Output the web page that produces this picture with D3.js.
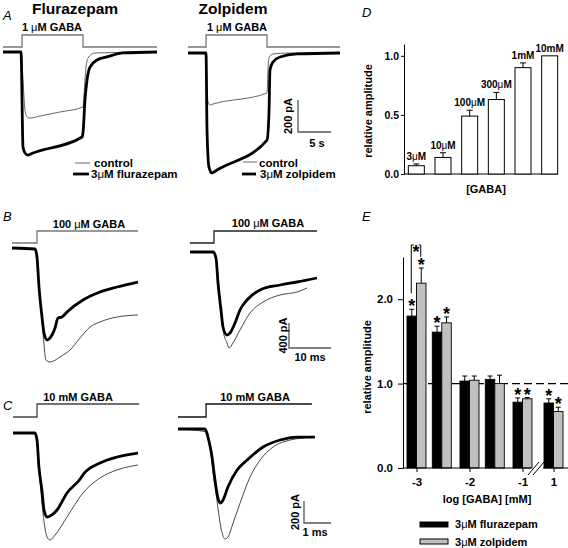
<!DOCTYPE html>
<html><head><meta charset="utf-8">
<script src="https://cdn.jsdelivr.net/npm/d3@7"></script>
<style>
body{margin:0;background:#fff}
svg{display:block;font-family:"Liberation Sans",Arial,Helvetica,sans-serif}
</style></head><body>
<svg id="c" width="568" height="548"></svg>
<script>
// ================= DATA =================
// Panel A: [time (s), current (pA)]
const aFluraControl = [[0,0],[2.73,0],[3.03,-175],[3.33,-363],[3.64,-406],[4.09,-413],[5.61,-400],[8.64,-375],[12.12,-344],[12.27,-269],[12.58,-94],[12.88,-38],[13.94,-6],[23.33,0]];
const aFluraDrug    = [[0,0],[2.73,0],[3.03,-594],[3.33,-631],[3.79,-644],[4.55,-631],[11.97,-531],[12.12,-506],[12.42,-300],[12.73,-175],[13.18,-94],[14.24,-50],[15.76,-31],[18.18,-6],[23.33,0]];
const aZolpControl  = [[0,0],[2.58,0],[3.03,-306],[3.33,-325],[3.79,-319],[11.97,-250],[12.12,-106],[12.27,-31],[12.88,-6],[15.45,0],[23.03,0]];
const aZolpDrug     = [[0,0],[2.73,0],[2.88,-481],[3.18,-713],[3.64,-750],[4.39,-731],[11.97,-544],[12.27,-375],[12.42,-106],[12.88,-56],[13.94,-25],[16.52,-6],[23.03,0]];
// Panel B: [time (ms), current (pA)]
const bFluraControl = [[0,0],[5.48,-16],[5.95,-144],[6.43,-624],[7.14,-1152],[7.62,-1552],[8.1,-1792],[9.05,-1824],[11.43,-1744],[13.81,-1632],[16.19,-1440],[18.57,-1264],[20.95,-1184],[25.0,-1104],[30.0,-1072]];
const bFluraDrug    = [[0,0],[5.48,-16],[5.95,-144],[6.43,-624],[7.14,-1104],[7.62,-1360],[8.33,-1472],[9.05,-1440],[10.24,-1280],[10.95,-1120],[11.9,-1104],[13.1,-1024],[16.9,-832],[20.95,-704],[25.0,-624],[30.0,-544]];
const bZolpControl  = [[0,0],[5.48,0],[6.43,-240],[7.14,-768],[7.86,-1248],[8.81,-1456],[9.29,-1536],[10.24,-1456],[11.9,-1248],[14.29,-976],[17.38,-800],[21.43,-688],[25.48,-640],[27.86,-576]];
const bZolpDrug     = [[0,0],[5.48,0],[6.19,-96],[6.67,-496],[7.38,-928],[7.86,-1200],[8.81,-1328],[9.52,-1296],[10.71,-1136],[11.9,-928],[13.57,-768],[16.67,-608],[21.43,-528],[25.48,-480],[30.24,-416]];
// Panel C: [time (ms), current (pA)]
const cFluraControl = [[0,0],[0.81,0],[0.89,-64],[1.0,-427],[1.11,-727],[1.26,-945],[1.37,-973],[1.56,-927],[2.0,-764],[2.59,-545],[3.22,-409],[3.85,-336],[4.63,-291]];
const cFluraDrug    = [[0,0],[0.81,0],[0.89,-64],[0.96,-309],[1.07,-518],[1.15,-700],[1.26,-764],[1.44,-745],[1.63,-700],[2.0,-545],[2.48,-420],[2.59,-380],[3.22,-273],[3.85,-218],[4.63,-182]];
const cZolpControl  = [[0,0],[1.07,-27],[1.19,-164],[1.3,-400],[1.44,-645],[1.56,-855],[1.74,-1000],[1.85,-982],[2.04,-855],[2.3,-673],[2.67,-436],[3.04,-282],[3.52,-164],[4.15,-100],[4.63,-82],[5.07,-73]];
const cZolpDrug     = [[0,0],[1.0,0],[1.11,-73],[1.26,-255],[1.37,-464],[1.48,-627],[1.56,-673],[1.67,-645],[1.85,-527],[2.19,-373],[2.56,-282],[3.15,-164],[3.78,-100],[4.41,-73],[5.07,-73]];
// GABA application windows [on, off]
const aApplyFlura = [2.88, 12.12];
const aApplyZolp  = [2.73, 11.97];
const bApplyFlura = [5.95, 30.0];
const bApplyZolp  = [5.71, 30.24];
const cApplyFlura = [0.89, 4.67];
const cApplyZolp  = [1.04, 4.96];

// Panel D: concentration-response
const dLabels = ["3μM","10μM","100μM","300μM","1mM","10mM"];
const dMean   = [0.07, 0.14, 0.49, 0.63, 0.90, 1.00];
const dErr    = [0.015, 0.04, 0.05, 0.06, 0.04, 0];
const dTicks  = [0, 0.5, 1.0];

// Panel E: modulation
const eConc      = [0.001, 0.003, 0.01, 0.03, 0.1, 10];   // mM
const eFluraMean = [1.80, 1.61, 1.03, 1.05, 0.78, 0.77];
const eFluraErr  = [0.08, 0.07, 0.06, 0.04, 0.05, 0.05];
const eZolpMean  = [2.19, 1.72, 1.04, 1.00, 0.82, 0.67];
const eZolpErr   = [0.18, 0.07, 0.05, 0.10, 0.015, 0.05];
const eFluraSig  = [true, true, false, false, true, true];
const eZolpSig   = [true, true, false, false, true, true];
const eYTicks    = [0, 1, 2];
const eXTicks    = [-3, -2, -1, 1];

// ================= DRAW =================
const svg = d3.select("#c");
const BOLD = "bold";

function rich(g, x, y, str, size, anchor, rotate) {
  const t = g.append("text").attr("x", x).attr("y", y)
    .attr("font-size", size).attr("font-weight", BOLD)
    .attr("text-anchor", anchor || "start").attr("fill", "#000");
  if (rotate) t.attr("transform", `rotate(${rotate},${x},${y})`);
  str.split(/(μ)/).forEach(s => {
    if (!s) return;
    const ts = t.append("tspan").text(s);
    if (s === "μ") ts.attr("font-weight", "normal");
  });
  return t;
}
function letter(x, y, s) {
  svg.append("text").attr("x", x).attr("y", y).attr("font-size", 13)
    .attr("font-style", "italic").text(s);
}

function tracePanel(cfg) {
  const x = d3.scaleLinear().domain([0, cfg.tMax]).range([cfg.x0, cfg.x0 + cfg.tMax * cfg.pxT]);
  const y = d3.scaleLinear().domain([0, -1000]).range([cfg.y0, cfg.y0 + 1000 / cfg.pApx]);
  const line = d3.line().x(d => x(d[0])).y(d => y(d[1])).curve(d3.curveMonotoneX);
  const g = svg.append("g");
  const [on, off] = cfg.apply;
  const stepPts = off < cfg.tMax - 0.5
    ? [[0, cfg.stepLow], [on, cfg.stepLow], [on, cfg.stepHigh], [off, cfg.stepHigh], [off, cfg.stepLow], [cfg.tMax, cfg.stepLow]]
    : [[0, cfg.stepLow], [on, cfg.stepLow], [on, cfg.stepHigh], [off, cfg.stepHigh]];
  g.append("path").attr("d", d3.line().x(d => x(d[0])).y(d => d[1])(stepPts))
    .attr("fill", "none").attr("stroke", cfg.stepColor).attr("stroke-width", 1.3);
  g.append("path").attr("d", line(cfg.control)).attr("fill", "none")
    .attr("stroke", cfg.ctrlColor).attr("stroke-width", 0.9);
  g.append("path").attr("d", line(cfg.drug)).attr("fill", "none")
    .attr("stroke", "#000").attr("stroke-width", 2.8).attr("stroke-linejoin", "round");
  return {x, y, g};
}
function scaleBar(p, cx, cy, pA, t, pALabel, tLabel, lblX, tLblX, tLblY) {
  const h = p.y(-pA) - p.y(0), w = p.x(t) - p.x(0);
  svg.append("path").attr("d", `M${cx},${cy - h}V${cy}H${cx + w}`)
    .attr("fill", "none").attr("stroke", "#555").attr("stroke-width", 1.3);
  rich(svg, lblX, cy - h / 2, pALabel, 11, "middle", -90);
  rich(svg, tLblX, tLblY, tLabel, 11, "middle");
}

// ---- Panel A ----
letter(3, 20, "A");
svg.append("text").attr("x", 75).attr("y", 14).attr("font-size", 15.5).attr("font-weight", BOLD).attr("text-anchor", "middle").text("Flurazepam");
svg.append("text").attr("x", 233).attr("y", 14).attr("font-size", 15.5).attr("font-weight", BOLD).attr("text-anchor", "middle").text("Zolpidem");
const pA1 = tracePanel({x0: 3, y0: 52, tMax: 23.33, pxT: 6.6, pApx: 6.25, apply: aApplyFlura, stepLow: 47, stepHigh: 35, stepColor: "#777", ctrlColor: "#555", control: aFluraControl, drug: aFluraDrug});
const pA2 = tracePanel({x0: 188, y0: 53, tMax: 23.03, pxT: 6.6, pApx: 6.25, apply: aApplyZolp, stepLow: 47, stepHigh: 35, stepColor: "#777", ctrlColor: "#555", control: aZolpControl, drug: aZolpDrug});
rich(svg, 52, 31, "1 μM GABA", 11, "middle");
rich(svg, 237, 31, "1 μM GABA", 11, "middle");
[[75, 90, 163, 0.9, "#555", "control", 94, 167],
 [73, 89, 174, 2.8, "#000", "3μM flurazepam", 91, 178],
 [243, 257, 162, 0.9, "#555", "control", 259, 167],
 [242, 256, 174, 2.8, "#000", "3μM zolpidem", 260, 178]].forEach(l => {
  svg.append("line").attr("x1", l[0]).attr("x2", l[1]).attr("y1", l[2]).attr("y2", l[2]).attr("stroke", l[4]).attr("stroke-width", l[3]);
  rich(svg, l[6], l[7], l[5], 11.5, "start");
});
scaleBar(pA2, 298, 132, 200, 5, "200 pA", "5 s", 292, 317, 147);

// ---- Panel B ----
letter(3, 221, "B");
const pB1 = tracePanel({x0: 12, y0: 248, tMax: 30, pxT: 4.2, pApx: 16, apply: bApplyFlura, stepLow: 243, stepHigh: 231, stepColor: "#777", ctrlColor: "#333", control: bFluraControl, drug: bFluraDrug});
const pB2 = tracePanel({x0: 190, y0: 252, tMax: 30.24, pxT: 4.2, pApx: 16, apply: bApplyZolp, stepLow: 243, stepHigh: 231, stepColor: "#222", ctrlColor: "#333", control: bZolpControl, drug: bZolpDrug});
rich(svg, 89, 228, "100  μM GABA", 11, "middle");
rich(svg, 268, 227, "100  μM GABA", 11, "middle");
scaleBar(pB2, 289, 348, 400, 10, "400 pA", "10 ms", 287, 310, 361);

// ---- Panel C ----
letter(3, 410, "C");
const pC1 = tracePanel({x0: 13, y0: 433, tMax: 4.67, pxT: 27, pApx: 9.09, apply: cApplyFlura, stepLow: 417, stepHigh: 404, stepColor: "#444", ctrlColor: "#333", control: cFluraControl, drug: cFluraDrug});
const pC2 = tracePanel({x0: 178, y0: 429, tMax: 5.07, pxT: 27, pApx: 9.09, apply: cApplyZolp, stepLow: 417, stepHigh: 404, stepColor: "#111", ctrlColor: "#333", control: cZolpControl, drug: cZolpDrug});
rich(svg, 78, 401, "10 mM GABA", 11, "middle");
rich(svg, 255, 401, "10 mM GABA", 11, "middle");
scaleBar(pC2, 304, 523, 200, 1, "200 pA", "1 ms", 299, 315, 536);

// ---- Panel D ----
letter(362, 17, "D");
const xD = d3.scaleBand().domain(dLabels).range([403, 563]).paddingInner(0.4).paddingOuter(0.2);
const yD = d3.scaleLinear().domain([0, 1.1]).range([174, 44]);
const gD = svg.append("g");
gD.append("line").attr("x1", 404).attr("x2", xD(dLabels[5]) + xD.bandwidth()).attr("y1", yD(0)).attr("y2", yD(0)).attr("stroke", "#000").attr("stroke-width", 1);
dLabels.forEach((l, i) => {
  const bx = xD(l), bw = xD.bandwidth(), cx = bx + bw / 2;
  gD.append("rect").attr("x", bx).attr("y", yD(dMean[i])).attr("width", bw).attr("height", yD(0) - yD(dMean[i]))
    .attr("fill", "#fff").attr("stroke", "#000").attr("stroke-width", 1);
  const top = yD(dMean[i] + dErr[i]);
  if (dErr[i] > 0) {
    gD.append("path").attr("d", `M${cx},${yD(dMean[i])}V${top}M${cx - 3},${top}H${cx + 3}`).attr("stroke", "#000").attr("fill", "none");
  }
  rich(gD, cx, top - 4, l, 10, "middle");
});
const axD = svg.append("g").attr("transform", "translate(404,0)")
  .call(d3.axisLeft(yD).tickValues(dTicks).tickFormat(d3.format(".1f")).tickSize(3).tickSizeOuter(0).tickPadding(2));
axD.selectAll("text").attr("font-size", 10.5).attr("font-weight", BOLD).attr("font-family", null);
axD.selectAll("path,line").attr("stroke", "#000");
rich(svg, 372, 111, "relative amplitude", 11, "middle", -90);
rich(svg, 486, 193, "[GABA]", 11, "middle");

// ---- Panel E ----
letter(362, 221, "E");
const xE = d3.scaleLinear().domain([-3, -1, 1]).range([416.5, 522.5, 553.5]);
const yE = d3.scaleLinear().domain([0, 2.5]).range([468, 257]);
const gE = svg.append("g");
const bw = 9.5;
gE.append("line").attr("x1", 404).attr("x2", 568).attr("y1", yE(1)).attr("y2", yE(1))
  .attr("stroke", "#000").attr("stroke-width", 1.1).attr("stroke-dasharray", "8,4");
function star(x, yc) {
  gE.append("text").attr("x", x).attr("y", yc + 9).attr("font-size", 18).attr("font-weight", BOLD)
    .attr("text-anchor", "middle").text("*");
}
function ebar(cx, mean, err, fill, sig) {
  gE.append("rect").attr("x", cx).attr("y", yE(mean)).attr("width", bw).attr("height", yE(0) - yE(mean))
    .attr("fill", fill).attr("stroke", "#000").attr("stroke-width", 0.9);
  const c = cx + bw / 2, top = yE(mean + err);
  gE.append("path").attr("d", `M${c},${yE(mean)}V${top}M${c - 2.5},${top}H${c + 2.5}`).attr("stroke", "#000").attr("fill", "none");
  if (sig) star(c, top - 6);
  return {c, top};
}
const eRes = eConc.map((conc, i) => {
  const cx = xE(Math.log10(conc));
  const b = ebar(cx - bw, eFluraMean[i], eFluraErr[i], "#000", eFluraSig[i]);
  const z = ebar(cx, eZolpMean[i], eZolpErr[i], "#c0c0c0", eZolpSig[i]);
  return {b, z};
});
{
  const {b, z} = eRes[0];
  const yTop = yE(eZolpMean[0] + eZolpErr[0]) - 23;
  gE.append("path").attr("d", `M${b.c - 0.5},${b.top - 16}V${yTop}H${b.c + 2}M${z.c - 2.5},${yTop}H${z.c - 0.5}V${yTop + 12}`)
    .attr("fill", "none").attr("stroke", "#000").attr("stroke-width", 1);
  star((b.c + z.c) / 2 - 0.5, yTop + 4);
}
const axE = svg.append("g").attr("transform", "translate(403,0)")
  .call(d3.axisLeft(yE).tickValues(eYTicks).tickFormat(d3.format(".1f")).tickSize(5).tickSizeOuter(0).tickPadding(5));
axE.selectAll("text").attr("font-size", 11.5).attr("font-weight", BOLD).attr("font-family", null);
axE.selectAll("path,line").attr("stroke", "#000");
const brk = (xE(-1) + bw + xE(1) - bw) / 2;
gE.append("path").attr("d", `M403,${yE(0)}H${brk - 7}M${brk + 5},${yE(0)}H568`).attr("stroke", "#000").attr("fill", "none");
gE.append("path").attr("d", `M${brk - 10},${yE(0) + 7}L${brk + 1},${yE(0) - 6}M${brk - 5},${yE(0) + 7}L${brk + 6},${yE(0) - 6}`).attr("stroke", "#000").attr("fill", "none");
const axEx = svg.append("g").attr("transform", `translate(0,${yE(0)})`)
  .call(d3.axisBottom(xE).tickValues(eXTicks).tickFormat(d => String(d)).tickSize(4).tickPadding(6));
axEx.select(".domain").remove();
axEx.selectAll("text").attr("font-size", 11.5).attr("font-weight", BOLD).attr("font-family", null);
axEx.selectAll("line").attr("stroke", "#000");
rich(svg, 371, 367, "relative amplitude", 11, "middle", -90);
rich(svg, 487, 503, "log [GABA] [mM]", 11, "middle");
svg.append("rect").attr("x", 420).attr("y", 522).attr("width", 28).attr("height", 5).attr("fill", "#000").attr("stroke", "#000");
svg.append("rect").attr("x", 420).attr("y", 539).attr("width", 28).attr("height", 5).attr("fill", "#c0c0c0").attr("stroke", "#000");
rich(svg, 455, 528, "3μM flurazepam", 11, "start");
rich(svg, 455, 546, "3μM zolpidem", 11, "start");
</script></body></html>
